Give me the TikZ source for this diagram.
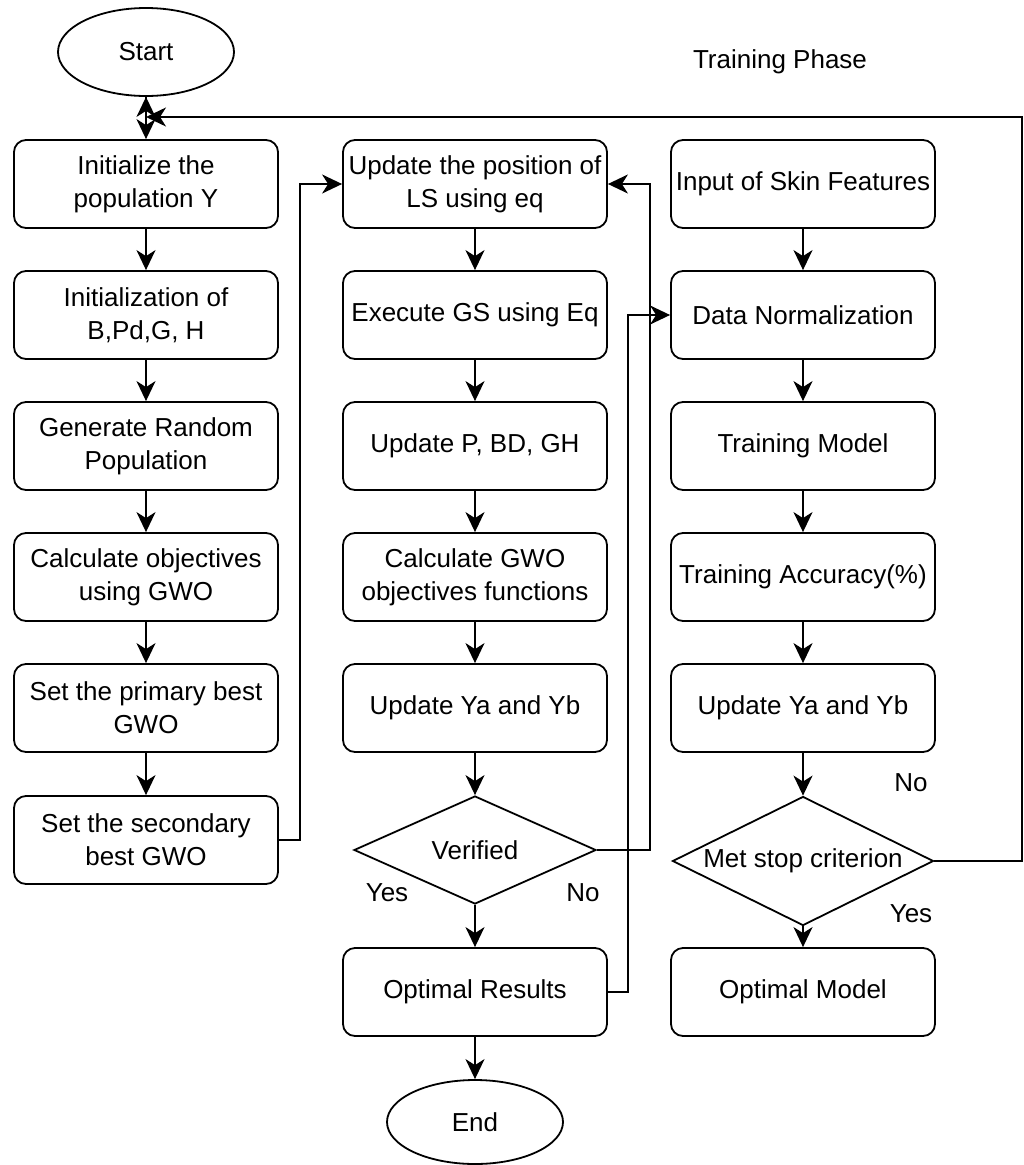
\documentclass[tikz,border=0pt]{standalone}
\usepackage{fontspec}
\setmainfont{Liberation Sans}
\usetikzlibrary{shapes.geometric,arrows.meta,positioning}
\begin{document}
\begin{tikzpicture}[x=1pt,y=-1pt,
  every node/.style={font=\fontsize{26}{33}\selectfont},
  box/.style={draw, line width=1.8pt, rounded corners=12pt, minimum width=264pt, minimum height=88pt, align=center, inner sep=0pt},
  oval/.style={draw, ellipse, line width=1.8pt, minimum width=176pt, minimum height=88pt, inner sep=0pt},
  dia/.style={draw, diamond, line width=1.8pt, inner sep=0pt},
  arr/.style={line width=1.8pt, -{Stealth[length=20pt,width=19pt,inset=6pt]}},
  ln/.style={line width=1.8pt}]
\useasboundingbox (0,0) rectangle (1024,1165);
% left column
\node[oval] (start) at (146,52) {Start};
\node[box] (l1) at (146,184) {Initialize the\\population Y};
\node[box] (l2) at (146,315) {Initialization of\\B,Pd,G, H};
\node[box] (l3) at (146,446) {Generate Random\\Population};
\node[box] (l4) at (146,577) {Calculate objectives\\using GWO};
\node[box] (l5) at (146,708) {Set the primary best\\GWO};
\node[box] (l6) at (146,840) {Set the secondary\\best GWO};
% middle column
\node[box] (m1) at (475,184) {Update the position of\\LS using eq};
\node[box] (m2) at (475,315) {Execute GS using Eq};
\node[box] (m3) at (475,446) {Update P, BD, GH};
\node[box] (m4) at (475,577) {Calculate GWO\\objectives functions};
\node[box] (m5) at (475,708) {Update Ya and Yb};
\node[dia, minimum width=242pt, minimum height=108pt, label=center:Verified] (ver) at (475,850) {};
\node[box] (opt) at (475,992) {Optimal Results};
\node[oval, minimum height=84pt] (end) at (475,1122) {End};
% right column
\node (phase) at (780,62) {Training Phase};
\node[box] (r1) at (803,184) {Input of Skin Features};
\node[box] (r2) at (803,315) {Data Normalization};
\node[box] (r3) at (803,446) {Training Model};
\node[box] (r4) at (803,577) {Training Accuracy(\%)};
\node[box] (r5) at (803,708) {Update Ya and Yb};
\node[dia, minimum width=261pt, minimum height=129pt, label=center:Met stop criterion] (met) at (803,861) {};
\node[box] (r7) at (803,992) {Optimal Model};
% labels
\node (yes1) at (387,893) {Yes};
\node (no1) at (583,893) {No};
\node (no2) at (911,783) {No};
\node (yes2) at (911,914) {Yes};
% coordinates
\coordinate (fb) at (146,117);
% connectors
\draw[arr] (start) -- (l1);
\draw[arr] (l1) -- (l2);
\draw[arr] (l2) -- (l3);
\draw[arr] (l3) -- (l4);
\draw[arr] (l4) -- (l5);
\draw[arr] (l5) -- (l6);
\draw[arr] (l6.east) -- (300,840) |- (m1.west);
\draw[arr] (m1) -- (m2);
\draw[arr] (m2) -- (m3);
\draw[arr] (m3) -- (m4);
\draw[arr] (m4) -- (m5);
\draw[arr] (m5) -- (ver.north);
\draw[arr] (ver.south) -- (opt);
\draw[arr] (opt) -- (end);
\draw[arr] (ver.east) -- (650,850) |- (m1.east);
\draw[arr] (opt.east) -- (628,992) |- (r2.west);
\draw[arr] (r1) -- (r2);
\draw[arr] (r2) -- (r3);
\draw[arr] (r3) -- (r4);
\draw[arr] (r4) -- (r5);
\draw[arr] (r5) -- (met.north);
\draw[arr] (met.south) -- (r7);
\draw[arr] (met.east) -- (1022,861) |- (fb);
\draw[arr] (fb) -- (start.south);
\end{tikzpicture}
\end{document}
